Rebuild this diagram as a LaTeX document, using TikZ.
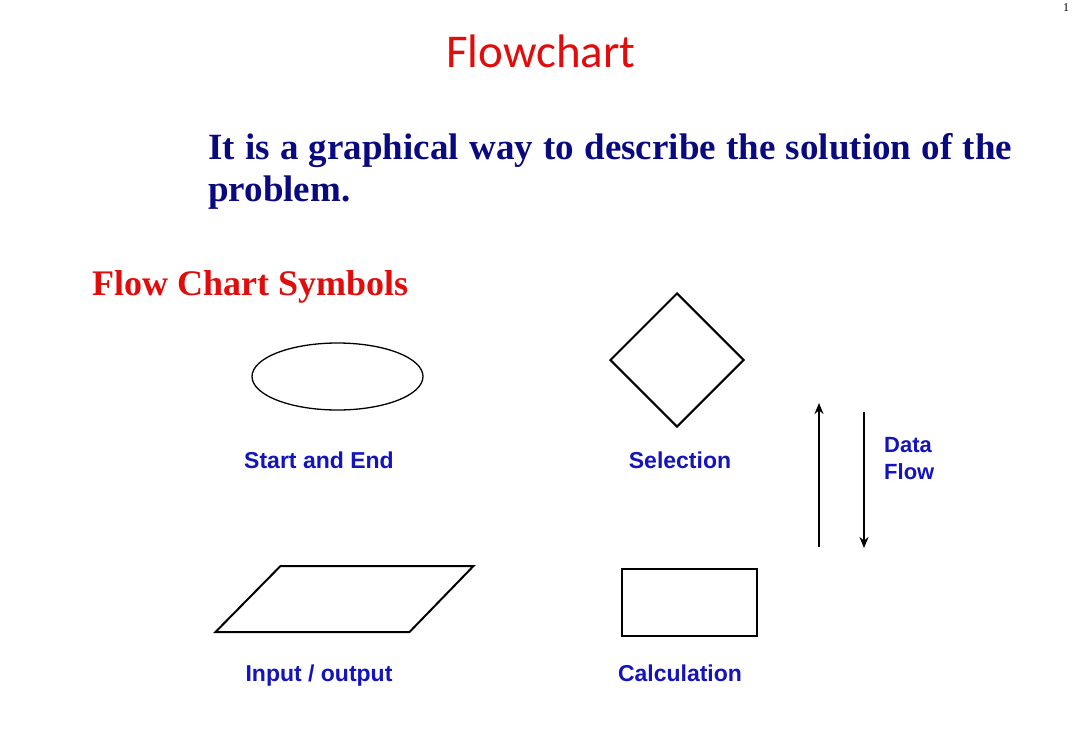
\documentclass[tikz,border=0pt]{standalone}
\usepackage{fontspec}
\setmainfont{Liberation Serif}
\newfontfamily\calib{Carlito}
\newfontfamily\arialf{Liberation Sans}
\usetikzlibrary{arrows.meta,shapes.geometric}
\definecolor{titlered}{RGB}{225,12,12}
\definecolor{navytext}{RGB}{10,10,128}
\definecolor{labelblue}{RGB}{20,20,190}
\tikzset{
  shapeline/.style={draw=black,line width=2pt},
  lbl/.style={font=\arialf\bfseries\fontsize{23}{27}\selectfont,text=labelblue,inner sep=0pt,anchor=base},
  flowarrow/.style={draw=black,line width=2.2pt,-{Stealth[length=11pt,width=9pt]}},
  bodytext/.style={font=\bfseries\fontsize{37}{42}\selectfont,text=navytext,inner sep=0pt,anchor=base west}
}
\begin{document}
\begin{tikzpicture}[x=1pt,y=-1pt]
\useasboundingbox[fill=white] (0,0) rectangle (1080,737);
% page number
\node[font=\fontsize{12}{14}\selectfont,inner sep=0pt,anchor=base] (pg) at (1066,11) {1};
% title
\node[font=\calib\fontsize{47}{56}\selectfont,text=titlered,inner sep=0pt,anchor=base] (title) at (541,67) {Flowchart};
% body text
\node[bodytext] (line1) at (208,159) {\makebox[804pt][s]{It is a graphical way to describe the solution of the}};
\node[bodytext] (line2) at (208,201) {problem.};
\node[font=\bfseries\fontsize{36}{42}\selectfont,text=titlered,inner sep=0pt,anchor=base west] (fcs) at (92,295) {Flow Chart Symbols};
% start / end ellipse
\node[draw=black,line width=1.3pt,ellipse,minimum width=171pt,minimum height=67pt,inner sep=0pt] (startend) at (337.5,376.5) {};
\node[lbl] (startlbl) at (319,468) {Start and End};
% selection diamond
\node[shapeline,diamond,minimum width=134pt,minimum height=134pt,inner sep=0pt] (sel) at (677,360) {};
\node[lbl] (sellbl) at (680,468) {Selection};
% input/output parallelogram
\draw[shapeline] (280.5,566) -- (473.5,566) -- (409.5,632) -- (215.5,632) -- cycle;
\coordinate (io) at (344.5,599);
\node[lbl] (iolbl) at (319,681) {Input / output};
% calculation rectangle
\node[shapeline,rectangle,minimum width=135pt,minimum height=67pt,inner sep=0pt] (calc) at (689.5,602.5) {};
\node[lbl] (calclbl) at (680,681) {Calculation};
% data flow arrows
\coordinate (upS) at (819,547);
\coordinate (upE) at (819,403);
\coordinate (dnS) at (864,412);
\coordinate (dnE) at (864,548);
\draw[flowarrow] (upS) -- (upE);
\draw[flowarrow] (dnS) -- (dnE);
\node[font=\arialf\bfseries\fontsize{22}{27}\selectfont,text=labelblue,inner sep=0pt,anchor=base west,align=left] (dataflow) at (884,479) {Data\\Flow};
\end{tikzpicture}
\end{document}
